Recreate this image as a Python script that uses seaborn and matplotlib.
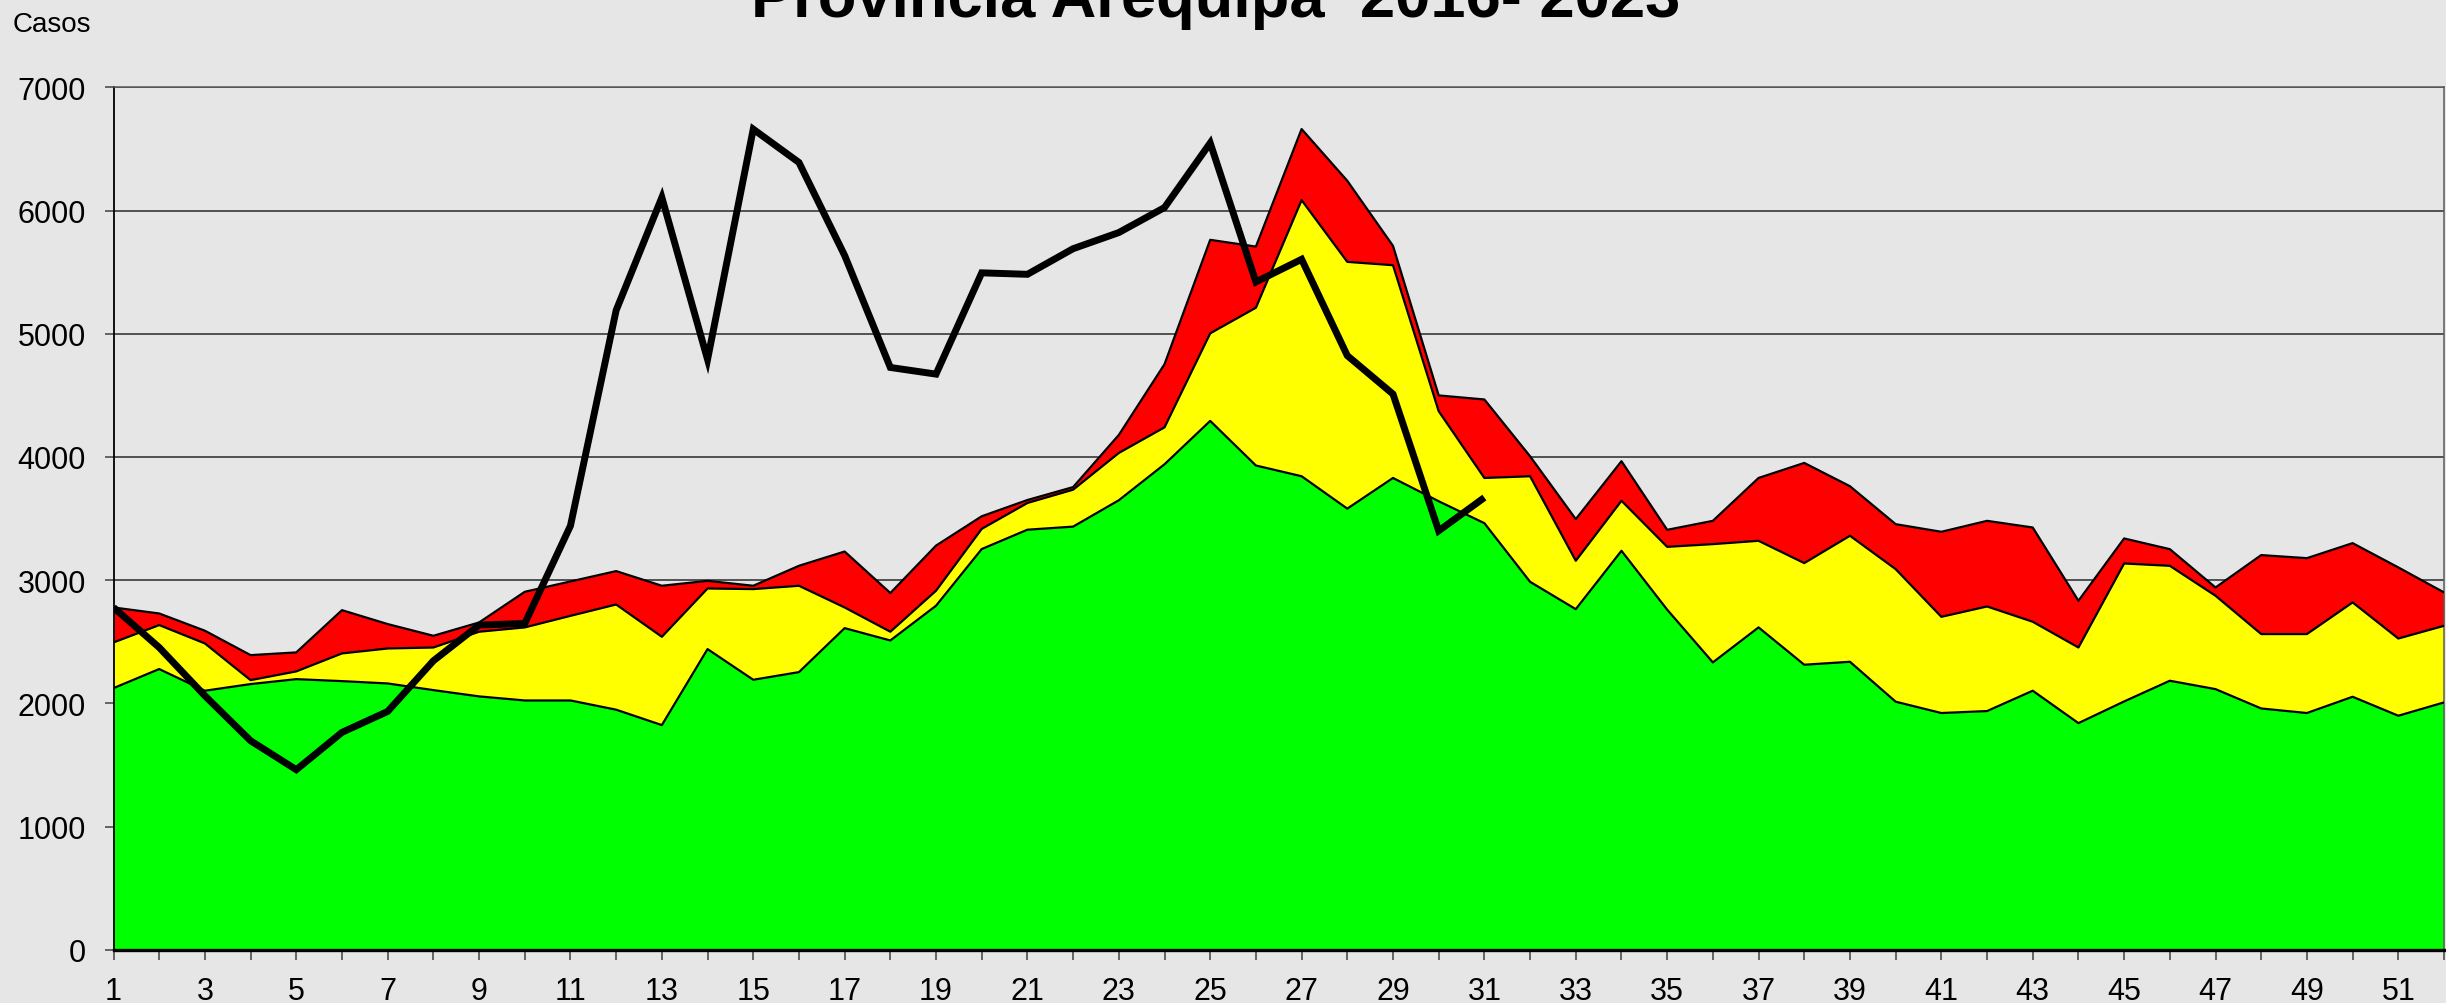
import numpy as np
import pandas as pd
import matplotlib
matplotlib.use("Agg")
import matplotlib.pyplot as plt
import seaborn as sns

# ---------------- data ----------------
weeks = list(range(1, 53))
week_labels = [str(w) if w % 2 == 1 else "" for w in weeks]

# upper limit of the green zone (quartile 1)
q1 = [2123, 2278, 2102, 2156, 2196, 2180, 2161, 2107, 2056, 2023,
      2023, 1948, 1823, 2440, 2191, 2253, 2610, 2510, 2792, 3252,
      3409, 3434, 3648, 3940, 4292, 3930, 3843, 3580, 3829, 3640,
      3462, 2986, 2764, 3238, 2760, 2332, 2616, 2313, 2337, 2013,
      1921, 1937, 2102, 1839, 2015, 2183, 2115, 1958, 1921, 2053,
      1899, 2007]

# upper limit of the yellow zone (median)
median = [2494, 2635, 2486, 2188, 2259, 2405, 2445, 2453, 2581, 2616,
          2710, 2802, 2540, 2932, 2927, 2954, 2778, 2581, 2914, 3416,
          3626, 3734, 4032, 4240, 5003, 5211, 6084, 5583, 5556, 4371,
          3829, 3843, 3157, 3644, 3270, 3292, 3319, 3138, 3360, 3089,
          2702, 2786, 2662, 2453, 3135, 3116, 2873, 2562, 2562, 2819,
          2526, 2629]

# upper limit of the red zone (quartile 3)
q3 = [2778, 2729, 2589, 2391, 2413, 2756, 2643, 2548, 2656, 2905,
      2989, 3073, 2954, 2994, 2954, 3116, 3232, 2895, 3280, 3518,
      3650, 3755, 4178, 4752, 5762, 5707, 6661, 6241, 5713, 4499,
      4466, 4005, 3495, 3965, 3408, 3481, 3829, 3951, 3762, 3454,
      3392, 3481, 3427, 2832, 3338, 3251, 2940, 3203, 3178, 3300,
      3103, 2900]

# current-year cases (weeks 1-31)
case_weeks = list(range(1, 32))
cases = [2778, 2453, 2061, 1696, 1461, 1764, 1934, 2345, 2635, 2648,
         3441, 5190, 6106, 4791, 6660, 6390, 5635, 4726, 4672, 5494,
         5482, 5690, 5821, 6024, 6548, 5420, 5604, 4822, 4510, 3400,
         3670]

y_ticks = [0, 1000, 2000, 3000, 4000, 5000, 6000, 7000]
title_text = "Provincia Arequipa  2016- 2023"
y_label_text = "Casos"

# ---------------- style ----------------
BG = "#E6E6E6"
sns.set_theme(style="white")
plt.rcParams["font.family"] = ["Liberation Sans", "DejaVu Sans"]
plt.rcParams["axes.facecolor"] = BG
plt.rcParams["figure.facecolor"] = BG

W, H = 2446, 1004
fig = plt.figure(figsize=(W / 100, H / 100), dpi=100)
fig.patch.set_facecolor(BG)

left, right = 113.5 / W, 2444 / W
bottom, top = 1 - 950.7 / H, 1 - 88.3 / H
ax = fig.add_axes([left, bottom, right - left, top - bottom])
ax.set_facecolor(BG)

df = pd.DataFrame({"week": weeks, "q1": q1, "median": median, "q3": q3})
df_cases = pd.DataFrame({"week": case_weeks, "cases": cases})

# zones
ax.fill_between(df["week"], 0, df["q1"], color="#00FF00", linewidth=0, zorder=2)
ax.fill_between(df["week"], df["q1"], df["median"], color="#FFFF00", linewidth=0, zorder=2)
ax.fill_between(df["week"], df["median"], df["q3"], color="#FF0000", linewidth=0, zorder=2)

# zone edges
for col in ["q1", "median", "q3"]:
    sns.lineplot(data=df, x="week", y=col, ax=ax, color="black",
                 linewidth=1.6, zorder=3, legend=False)

# current year line
sns.lineplot(data=df_cases, x="week", y="cases", ax=ax, color="black",
             linewidth=5.0, zorder=4, legend=False)
ax.lines[-1].set_solid_joinstyle("miter")
ax.lines[-1].set_solid_capstyle("butt")

# axes
ax.set_xlim(1, 52)
ax.set_ylim(0, 7000)
ax.set_xticks(weeks)
ax.set_xticklabels(week_labels)
ax.set_yticks(y_ticks)
ax.set_yticklabels([str(v) for v in y_ticks])
ax.set_xlabel("")
ax.set_ylabel("")

ax.yaxis.grid(True, color="#2a2a2a", linewidth=1.1, zorder=1)
ax.xaxis.grid(False)
ax.set_axisbelow(True)

ax.tick_params(axis="x", which="both", direction="out", length=7.2, width=1.1,
               color="#404040", pad=11.5, labelsize=22, labelcolor="black",
               bottom=True)
ax.tick_params(axis="y", which="both", direction="out", length=6.5, width=1.1,
               color="#404040", pad=13.5, labelsize=22, labelcolor="black",
               left=True)

for side in ["top", "right"]:
    ax.spines[side].set_visible(True)
    ax.spines[side].set_color("#5a5a5a")
    ax.spines[side].set_linewidth(1.1)
ax.spines["left"].set_color("black")
ax.spines["left"].set_linewidth(1.3)
ax.spines["bottom"].set_color("black")
ax.spines["bottom"].set_linewidth(2.4)
ax.spines["bottom"].set_zorder(5)

# texts
fig.text(1216 / W, 1 - 17 / H, title_text, ha="center", va="baseline",
         fontsize=45.5, fontweight="bold", color="black")
fig.text(13 / W, 1 - 32 / H, y_label_text, ha="left", va="baseline",
         fontsize=20, color="black")

fig.savefig("out.png", dpi=100, facecolor=BG)
